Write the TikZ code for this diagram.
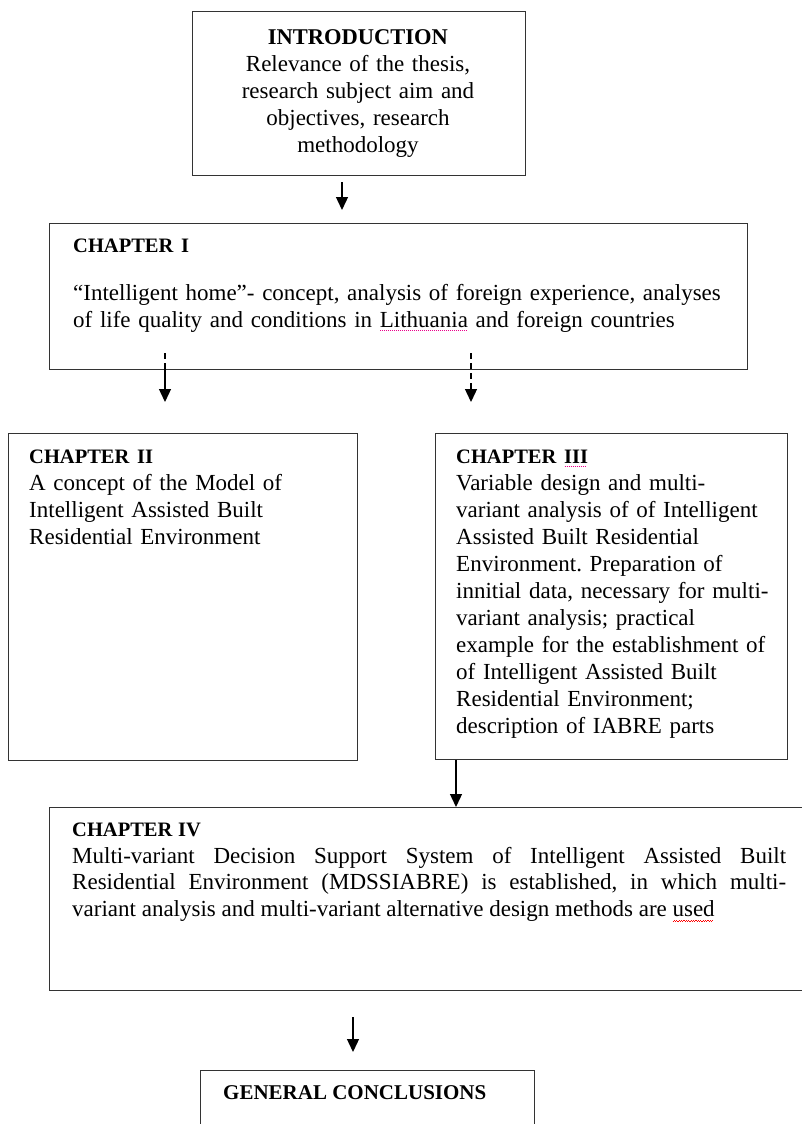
\documentclass[tikz,border=0pt]{standalone}
\usepackage{fontspec}
\setmainfont{Liberation Serif}
\usetikzlibrary{arrows.meta}
\frenchspacing
\newsavebox{\wordbox}
\newcommand{\pinkmark}[1]{\sbox{\wordbox}{#1}\rlap{\usebox{\wordbox}}\raisebox{-4pt}{\textcolor{magenta}{\leaders\hbox to 2pt{\hss\rule{1pt}{0.9pt}\hss}\hskip\wd\wordbox}}}
\newcommand{\redwave}[1]{\sbox{\wordbox}{#1}\rlap{\usebox{\wordbox}}\raisebox{-5pt}{\textcolor{red}{\leaders\hbox{\rule{1.2pt}{0.8pt}\rule[1pt]{1.2pt}{0.8pt}}\hskip\wd\wordbox}}}
\newcommand{\hd}[2][20.5]{{\fontsize{#1}{27}\selectfont\bfseries #2}}
\newcommand{\widespaces}{\spaceskip=0.25em plus 1em\relax}
\tikzset{
  boxnode/.style={draw=black!80, line width=1.4pt, inner sep=0pt, anchor=north west},
  txt/.style={anchor=north west, inner sep=0pt, align=left, font=\fontsize{23}{27}\selectfont\frenchspacing},
  arr/.style={line width=1.3pt, -{Triangle[width=12pt,length=13pt]}},
  dsh/.style={line width=1.3pt, dash pattern=on 6pt off 4pt},
  dsharr/.style={dsh, -{Triangle[width=12pt,length=13pt]}},
}
\begin{document}
\begin{tikzpicture}[x=1pt,y=-1pt]
\useasboundingbox (0,0) rectangle (801,1124);
% boxes
\node[boxnode, minimum width=333pt, minimum height=164pt] (intro) at (192,11) {};
\node[boxnode, minimum width=698pt, minimum height=146pt] (ch1) at (49,223) {};
\node[boxnode, minimum width=349pt, minimum height=327pt] (ch2) at (8,433) {};
\node[boxnode, minimum width=352pt, minimum height=326pt] (ch3) at (435,433) {};
\node[boxnode, minimum width=780pt, minimum height=183pt] (ch4) at (49,807) {};
\node[boxnode, minimum width=334pt, minimum height=90pt] (concl) at (200,1070) {};
% texts
\node[txt, anchor=north, align=center, text width=330pt] (tintro) at (358,25.1)
  {\strut\hd[22.5]{INTRODUCTION}\\ Relevance of the thesis,\\ research subject aim and\\ objectives, research\\ methodology};
\node[txt, text width=700pt] (tch1) at (73,233.1)
  {\strut\hd{CHAPTER I}\\[21pt] “Intelligent home”- concept, analysis of foreign experience, analyses\\ of life quality and conditions in \pinkmark{Lithuania} and foreign countries};
\node[txt, text width=320pt] (tch2) at (29,444.1)
  {\strut\hd{CHAPTER II}\\ A concept of the Model of\\ Intelligent Assisted Built\\ Residential Environment};
\node[txt, text width=340pt] (tch3) at (456,444.1)
  {\strut\hd{CHAPTER \pinkmark{III}}\\ Variable design and multi-\\ variant analysis of of Intelligent\\ Assisted Built Residential\\ Environment. Preparation of\\ innitial data, necessary for multi-\\ variant analysis; practical\\ example for the establishment of\\ of Intelligent Assisted Built\\ Residential Environment;\\ description of IABRE parts};
\node[txt, align=justify, text width=714pt, font=\fontsize{23}{26.5}\selectfont] (tch4) at (72,818.1)
  {\widespaces\strut\hd{CHAPTER IV}\\ Multi-variant Decision Support System of Intelligent Assisted Built\linebreak Residential Environment (MDSSIABRE) is established, in which multi-\linebreak variant analysis and multi-variant alternative design methods are \redwave{used}};
\node[txt] (tconcl) at (223,1080.1) {\strut\hd[21]{GENERAL CONCLUSIONS}};
% connectors
\coordinate (a1s) at (342,182);
\coordinate (a1e) at (342,210);
\draw[arr] (a1s) -- (a1e);
\coordinate (a2s) at (165,353);
\coordinate (a2m) at (165,369);
\coordinate (a2e) at (165,402);
\draw[dsh] (a2s) -- (a2m);
\draw[arr] (a2m) -- (a2e);
\coordinate (a3s) at (471,353);
\coordinate (a3e) at (471,402);
\draw[dsharr] (a3s) -- (a3e);
\coordinate (a4s) at (456,760);
\draw[arr] (a4s) -- (a4s |- ch4.north);
\coordinate (a5s) at (353,1017);
\coordinate (a5e) at (353,1052);
\draw[arr] (a5s) -- (a5e);
\end{tikzpicture}
\end{document}
